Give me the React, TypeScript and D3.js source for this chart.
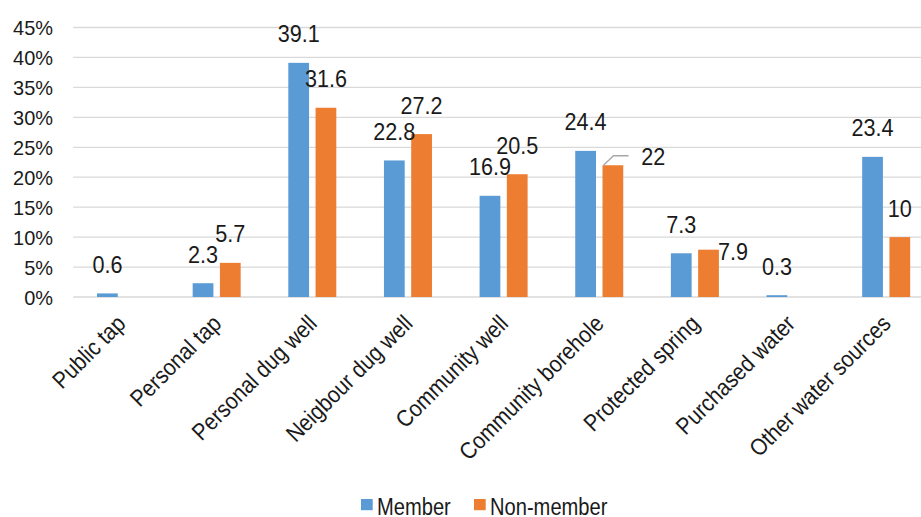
import React from "react";
import * as d3 from "d3";

// Water sources used by households, % of respondents in each group
const categories = [
  "Public tap",
  "Personal tap",
  "Personal dug well",
  "Neigbour dug well",
  "Community well",
  "Community borehole",
  "Protected spring",
  "Purchased water",
  "Other water sources",
];
const memberValues = [0.6, 2.3, 39.1, 22.8, 16.9, 24.4, 7.3, 0.3, 23.4];
const nonMemberValues = [null, 5.7, 31.6, 27.2, 20.5, 22, 7.9, null, 10];
const seriesNames = ["Member", "Non-member"];
const yTicks = [0, 5, 10, 15, 20, 25, 30, 35, 40, 45];

const WIDTH = 921;
const HEIGHT = 517;
const COLORS = ["#5B9BD5", "#ED7D31"];
const FONT = "'Liberation Sans', Arial, sans-serif";
const TEXT = "#1a1a1a";

const plot = { left: 73.2, right: 934, top: 27.5, bottom: 297 };

type LabelProps = {
  x: number;
  y: number;
  size: number;
  sx?: number;
  rotate?: number;
  anchor?: "start" | "middle" | "end";
  children: React.ReactNode;
};

// Text squeezed horizontally to get a condensed face out of the installed sans
function Label({ x, y, size, sx = 0.88, rotate = 0, anchor = "start", children }: LabelProps) {
  return (
    <text
      transform={`translate(${x},${y}) rotate(${rotate}) scale(${sx},1)`}
      textAnchor={anchor}
      fontSize={size}
      fill={TEXT}
    >
      {children}
    </text>
  );
}

export default function App() {
  const x = d3
    .scaleBand<string>()
    .domain(categories)
    .range([plot.left, plot.right])
    .paddingInner(0)
    .paddingOuter(0);
  const y = d3.scaleLinear().domain([0, 45]).range([plot.bottom, plot.top]);

  const step = x.bandwidth();
  const barW = step * 0.217;
  const gap = step * 0.068;

  const series = [memberValues, nonMemberValues];
  const barX = (cat: string, s: number) => {
    const c = (x(cat) ?? 0) + step / 2;
    return s === 0 ? c - gap / 2 - barW : c + gap / 2;
  };

  return (
    <svg
      width={WIDTH}
      height={HEIGHT}
      style={{ position: "absolute", left: 0, top: 0, background: "#fff" }}
      fontFamily={FONT}
    >
      <defs>
        <clipPath id="frame">
          <rect x={0} y={0} width={WIDTH} height={HEIGHT} />
        </clipPath>
      </defs>
      <g clipPath="url(#frame)">
        {/* gridlines */}
        {yTicks.map((t) => (
          <line
            key={t}
            x1={plot.left}
            x2={plot.right}
            y1={y(t)}
            y2={y(t)}
            stroke="#D9D9D9"
            strokeWidth={1.3}
          />
        ))}
        {/* y tick labels */}
        {yTicks.map((t) => (
          <Label key={"yl" + t} x={53} y={y(t) + 7.5} size={21} sx={0.95} anchor="end">
            {t + "%"}
          </Label>
        ))}
        {/* bars */}
        {series.map((vals, s) =>
          categories.map((cat, i) => {
            const v = vals[i];
            if (v == null) return null;
            return (
              <rect
                key={s + "-" + cat}
                x={barX(cat, s)}
                y={y(v)}
                width={barW}
                height={y(0) - y(v)}
                fill={COLORS[s]}
              />
            );
          })
        )}
        {/* value labels */}
        {series.map((vals, s) =>
          categories.map((cat, i) => {
            const v = vals[i];
            if (v == null) return null;
            const cx = barX(cat, s) + barW / 2;
            let lx = cx;
            let ly = y(v) - 20.5;
            let anchor: "middle" | "start" = "middle";
            // labels moved aside so they stay clear of neighbouring bars
            if (s === 1 && cat === "Protected spring") {
              lx = barX(cat, s) + barW - 1;
              ly = y(v) + 10;
              anchor = "start";
            }
            if (s === 1 && cat === "Community borehole") {
              lx = barX(cat, s) + barW + 18;
              ly = y(v) - 0.5;
              anchor = "start";
            }
            return (
              <Label key={"v" + s + cat} x={lx} y={ly} size={24} sx={0.9} anchor={anchor}>
                {String(v)}
              </Label>
            );
          })
        )}
        {/* leader line for the moved borehole label */}
        {(() => {
          const cat = "Community borehole";
          const v = nonMemberValues[categories.indexOf(cat)] as number;
          const bx = barX(cat, 1);
          const p = d3.path();
          p.moveTo(bx + 1, y(v));
          p.lineTo(bx + 11, y(v) - 9.5);
          p.lineTo(bx + 26, y(v) - 9.5);
          return <path d={p.toString()} fill="none" stroke="#A6A6A6" strokeWidth={1.3} />;
        })()}
        {/* category labels */}
        {categories.map((cat) => (
          <Label
            key={"c" + cat}
            x={(x(cat) ?? 0) + step / 2 + 6}
            y={325}
            size={23.5}
            sx={0.89}
            rotate={-45}
            anchor="end"
          >
            {cat}
          </Label>
        ))}
        {/* legend */}
        {seriesNames.map((name, s) => {
          const lx = s === 0 ? 361 : 474;
          return (
            <g key={"lg" + name}>
              <rect x={lx} y={499} width={11.7} height={11.2} fill={COLORS[s]} />
              <Label x={lx + 16} y={515} size={23} sx={0.875}>
                {name}
              </Label>
            </g>
          );
        })}
      </g>
    </svg>
  );
}
